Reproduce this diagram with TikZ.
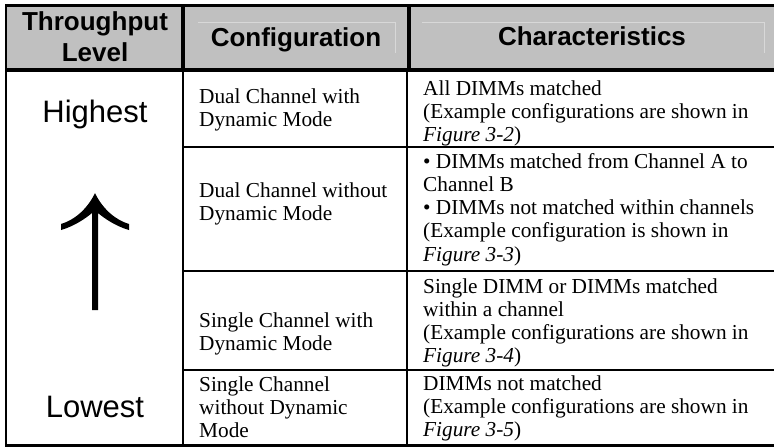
\documentclass[tikz,border=0pt]{standalone}
\usepackage{fontspec}
\setmainfont{Liberation Serif}
\setsansfont{Liberation Sans}
\definecolor{headgray}{HTML}{C0C0C0}
\definecolor{headline}{HTML}{D8D8D8}

\begin{document}
\begin{tikzpicture}[
    x=1pt, y=-1pt,
    head/.style={font=\fontsize{26}{32}\selectfont\sffamily\bfseries, anchor=base, align=flush center, text width=180pt, inner sep=0pt},
    level/.style={font=\fontsize{31}{36}\selectfont\sffamily, anchor=base, inner sep=0pt},
    conf/.style={font=\fontsize{21.3}{23.3}\selectfont, anchor=base west, align=flush left, text width=205pt, inner sep=0pt},
    chr/.style={conf, text width=345pt},
    rule/.style={line width=2pt},
    heavy rule/.style={line width=4pt},
    ]
    \useasboundingbox (0,0) rectangle (774,447);
    % header band
    \fill[headgray] (6,5.5) rectangle (774,70);
    \draw[headline] (198,22) -- (395,22) -- (395,53);
    \draw[headline] (422,22) -- (764,22) -- (764,53);
    % rules
    \draw[line width=3pt] (5,5.5) -- (774,5.5);
    \draw[line width=4.5pt] (5,70) -- (774,70);
    \draw[line width=3pt] (5,445.5) -- (774,445.5);
    \draw[rule] (6,4) -- (6,447);
    \draw[heavy rule] (182.5,4) -- (182.5,70);
    \draw[heavy rule] (408.5,4) -- (408.5,70);
    \draw[rule] (183,70) -- (183,447);
    \draw[rule] (407,70) -- (407,447);
    \foreach \y in {147,271,370}
        \draw[rule] (183,\y) -- (774,\y);

    \node[head] (hdlevel) at (95,30) {Throughput\\Level};
    \node[head] (hdconf) at (296,46) {Configuration};
    \node[head, text width=300pt] (hdchar) at (592,45) {Characteristics};

    \node[level] (hi) at (95,122) {Highest};
    \node[level] (lo) at (95,417) {Lowest};
    % arrow from lowest to highest
    \fill (95,193) .. controls (88,208) and (75,220) .. (61,224) -- (61,230)
        .. controls (75,226) and (86,218) .. (92,213) -- (92,310) -- (98,310) -- (98,213)
        .. controls (104,218) and (115,226) .. (129,230) -- (129,224)
        .. controls (115,220) and (102,208) .. (95,193) -- cycle;

    \node[conf] (conf1) at (199,103) {Dual Channel with\\Dynamic Mode};
    \node[conf] (conf2) at (199,197) {Dual Channel without\\Dynamic Mode};
    \node[conf] (conf3) at (199,327) {Single Channel with\\Dynamic Mode};
    \node[conf] (conf4) at (199,391) {Single Channel\\without Dynamic\\Mode};

    \node[chr] (chr1) at (423,95) {All DIMMs matched\\(Example configurations are shown in\\\textit{Figure 3-2})};
    \node[chr] (chr2) at (423,168) {• DIMMs matched from Channel A to\\Channel B\\• DIMMs not matched within channels\\(Example configuration is shown in\\\textit{Figure 3-3})};
    \node[chr] (chr3) at (423,293) {Single DIMM or DIMMs matched\\within a channel\\(Example configurations are shown in\\\textit{Figure 3-4})};
    \node[chr] (chr4) at (423,390) {DIMMs not matched\\(Example configurations are shown in\\\textit{Figure 3-5})};
\end{tikzpicture}
\end{document}
